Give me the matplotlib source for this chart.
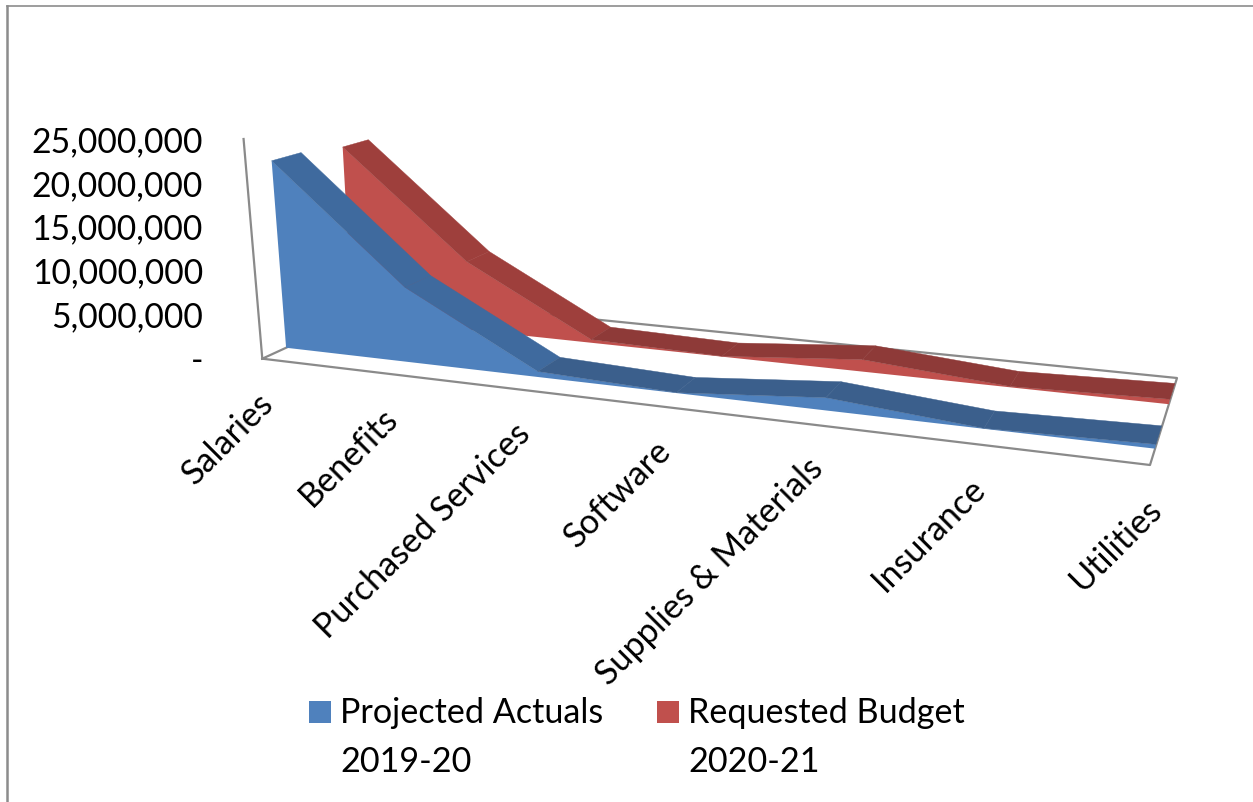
"""
3D area chart: budget by category, two series one behind the other.
"""
import numpy as np
import matplotlib
matplotlib.use("Agg")
import matplotlib.pyplot as plt

OUTPUT = "out.png"

categories = ["Salaries", "Benefits", "Purchased Services", "Software",
              "Supplies & Materials", "Insurance", "Utilities"]
projected_actuals = [21900000, 8800000, 650000, 50000, 1400000, 50000, 450000]
requested_budget = [21200000, 8500000, 400000, 50000, 1400000, 100000, 550000]
tick_values = [0, 5000000, 10000000, 15000000, 20000000, 25000000]
tick_labels = ["-", "5,000,000", "10,000,000", "15,000,000", "20,000,000", "25,000,000"]
legend_labels = ["Projected Actuals\n2019-20", "Requested Budget\n2020-21"]
VMAX = 25000000

W, H_PX = 1253, 802

# floor corners on screen (front left, front right, back right, back left)
corners = [(262.3, 358.7), (1150, 465), (1177, 378), (392, 299)]
vanish = (530, 3500)
axis_top_y = 139


def floor_matrix():
    A, b = [], []
    for (u, d), (x, y) in zip([(0, 0), (1, 0), (1, 1), (0, 1)], corners):
        A.append([u, d, 1, 0, 0, 0, -u * x, -d * x])
        A.append([0, 0, 0, u, d, 1, -u * y, -d * y])
        b += [x, y]
    s = np.linalg.solve(np.array(A), np.array(b))
    return np.array([[s[0], s[1], s[2]], [s[3], s[4], s[5]], [s[6], s[7], 1.0]])


floor = floor_matrix()
c = (corners[0][1] - axis_top_y) / (axis_top_y - vanish[1])
vert = np.array([vanish[0] * c, vanish[1] * c, c])


def project(i, d, v):
    p = floor @ np.array([i / (len(categories) - 1), d, 1]) + vert * v / VMAX
    return p[:2] / p[2]


def draw_area(ax, values, d0, d1, face, top_steep, top_flat):
    n = len(values)
    front = [project(i, d0, values[i]) for i in range(n)]
    base = [project(i, d0, 0) for i in range(n)]
    back = [project(i, d1, values[i]) for i in range(n)]
    ax.fill(*zip(*(front + base[::-1])), color=face, lw=0, zorder=2 if d0 > 0.5 else 4)
    for i in range(n - 1):
        col = top_steep if i < 2 else top_flat
        ax.fill(*zip(front[i], front[i + 1], back[i + 1], back[i]), color=col, lw=0.3,
                zorder=3 if d0 > 0.5 else 5)


plt.rcParams["font.family"] = ["Lato", "DejaVu Sans"]
fig = plt.figure(figsize=(W / 100, H_PX / 100), dpi=100)
ax = fig.add_axes([0, 0, 1, 1])
ax.set_xlim(0, W)
ax.set_ylim(H_PX, 0)
ax.axis("off")

# frame of the chart
ax.plot([7, 7], [H_PX, 5.5], color="#8c8c8c", lw=1.8, zorder=1)
ax.plot([7, W], [5.5, 5.5], color="#8c8c8c", lw=1.2, zorder=1)

# floor and value axis
grey = "#8a8a8a"
fl, fr, br, bl = corners
top = project(0, 0, VMAX)
ax.plot([fl[0], fr[0], br[0], bl[0], fl[0]], [fl[1], fr[1], br[1], bl[1], fl[1]],
        color=grey, lw=1.6, zorder=1)
ax.plot([fl[0], top[0]], [fl[1], top[1]], color=grey, lw=1.6, zorder=1)

draw_area(ax, requested_budget, 0.665, 0.865, "#C0504D", "#9E3F3C", "#8E3A38")
draw_area(ax, projected_actuals, 0.165, 0.365, "#4F81BD", "#3F6A9E", "#3B5F8C")

for val, lab in zip(tick_values, tick_labels):
    ax.text(203, 361 - val / 5000000 * 43.8, lab, ha="right", va="center", fontsize=24.2)

for i, lab in enumerate(categories):
    x, y = project(i, 0, 0)
    ax.text(x - 5, y + 28, lab, ha="right", va="top", rotation=45,
            rotation_mode="anchor", fontsize=24.6)

for x0, col, lab in zip([309, 657], ["#4F81BD", "#C0504D"], legend_labels):
    ax.add_patch(plt.Rectangle((x0, 701), 22, 22, color=col, lw=0))
    ax.text(x0 + 31, 737.5, lab, ha="left", va="center", fontsize=24.6, linespacing=1.65)

plt.savefig(OUTPUT, dpi=100)
print(f"plot saved: {OUTPUT}")
